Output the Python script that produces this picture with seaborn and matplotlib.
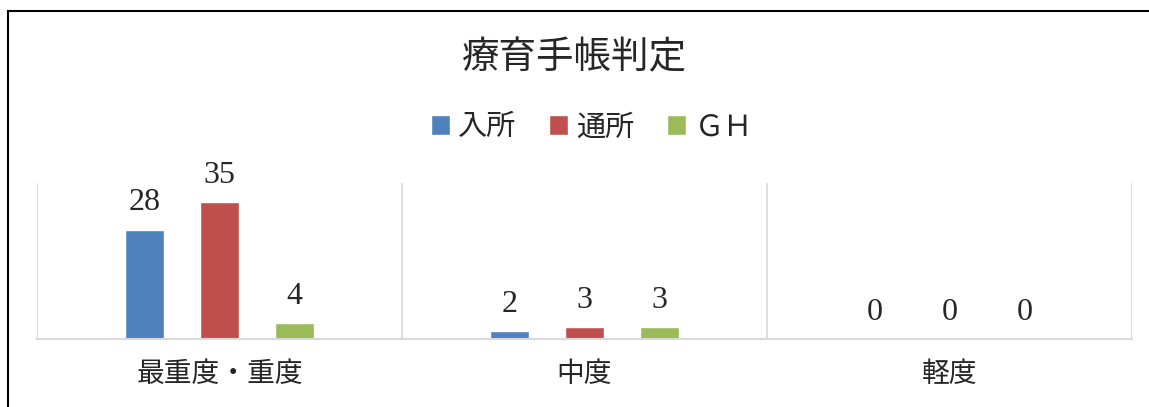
import matplotlib
matplotlib.use("Agg")
import matplotlib.pyplot as plt
from matplotlib.patches import Rectangle
import pandas as pd
import seaborn as sns

# data
categories = ["最重度・重度", "中度", "軽度"]
series = ["入所", "通所", "ＧＨ"]
nyusho = [28, 2, 0]
tsusho = [35, 3, 0]
gh = [4, 3, 0]
colors = ["#4F81BD", "#C0504D", "#9BBB59"]
title = "療育手帳判定"

df = pd.DataFrame({
    "cat": categories * 3,
    "series": [s for s in series for _ in categories],
    "val": nyusho + tsusho + gh,
})

sns.set_style("white")
plt.rcParams["font.family"] = ["Liberation Serif", "Noto Sans CJK JP"]

fig = plt.figure(figsize=(11.49, 4.07), dpi=100)
W, H = 1149, 407
ax = fig.add_axes([37 / W, 1 - 339 / H, (1132 - 37) / W, (339 - 183) / H])

sns.barplot(data=df, x="cat", y="val", hue="series", palette=colors,
            width=0.616, gap=0.48, ax=ax, legend=False, saturation=1)

for cont in ax.containers:
    ax.bar_label(cont, padding=9, fontsize=23)

ax.set_ylim(0, 40)
ax.set_xlim(-0.5, len(categories) - 0.5)
for b in range(len(categories) + 1):
    ax.axvline(b - 0.5, color="#D9D9D9", lw=1.2, zorder=0)
for s in ["top", "right", "left"]:
    ax.spines[s].set_visible(False)
ax.spines["bottom"].set_color("#D9D9D9")
ax.spines["bottom"].set_linewidth(1.5)
ax.set_yticks([])
ax.set_xlabel("")
ax.set_ylabel("")
ax.tick_params(axis="x", length=0, pad=17, labelsize=20)

fig.text(0.5, 1 - 59 / H, title, ha="center", va="center", fontsize=27)

handles = [c.patches[0] for c in ax.containers]
fig.legend(handles, series, loc="center", bbox_to_anchor=(0.515, 1 - 128 / H),
           ncol=3, frameon=False, fontsize=21, handlelength=0.65,
           handleheight=0.65, handletextpad=0.3, columnspacing=1.1)

# chart frame (only top/left visible in the crop)
fig.patches.append(Rectangle((8 / W, -0.5), 3, 1.5 - 11 / H,
                             transform=fig.transFigure, fill=False,
                             edgecolor="black", lw=1.5))

fig.savefig("out.png", dpi=100)
